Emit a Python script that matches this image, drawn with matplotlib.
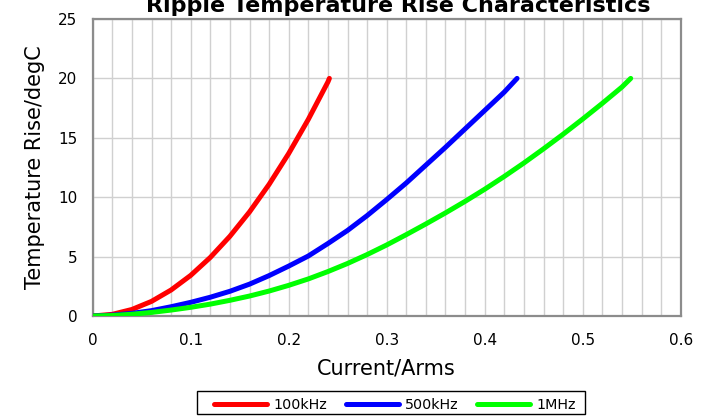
import matplotlib
matplotlib.use("Agg")
import matplotlib.pyplot as plt
from matplotlib.patches import Rectangle
import numpy as np

red_x = [0, 0.02, 0.04, 0.06, 0.08, 0.10, 0.12, 0.14, 0.16, 0.18, 0.20, 0.22, 0.24, 0.2415]
red_y = [0, 0.14, 0.55, 1.23, 2.19, 3.42, 4.93, 6.71, 8.76, 11.08, 13.68, 16.55, 19.7, 20]

blue_x = [0, 0.02, 0.04, 0.06, 0.08, 0.10, 0.12, 0.14, 0.16, 0.18, 0.20, 0.22, 0.24,
          0.26, 0.28, 0.30, 0.32, 0.34, 0.36, 0.38, 0.40, 0.42, 0.433]
blue_y = [0, 0.07, 0.22, 0.45, 0.78, 1.15, 1.58, 2.08, 2.68, 3.4, 4.2, 5.05, 6.1,
          7.2, 8.45, 9.8, 11.2, 12.7, 14.2, 15.75, 17.3, 18.85, 20]

green_x = [0, 0.02, 0.04, 0.06, 0.08, 0.10, 0.12, 0.14, 0.16, 0.18, 0.20, 0.22, 0.24,
           0.26, 0.28, 0.30, 0.32, 0.34, 0.36, 0.38, 0.40, 0.42, 0.44, 0.46, 0.48,
           0.50, 0.52, 0.54, 0.549]
green_y = [0, 0.04, 0.15, 0.3, 0.5, 0.73, 1.0, 1.32, 1.68, 2.1, 2.58, 3.12, 3.74,
           4.42, 5.17, 5.98, 6.85, 7.75, 8.68, 9.65, 10.67, 11.75, 12.88, 14.07, 15.3,
           16.58, 17.9, 19.27, 20]

series = [("100kHz", red_x, red_y, "#ff0000"),
          ("500kHz", blue_x, blue_y, "#0000ff"),
          ("1MHz", green_x, green_y, "#00ff00")]

plt.rcParams['font.family'] = ['DejaVu Sans']

W, H = 715, 416
fig = plt.figure(figsize=(W / 100, H / 100), dpi=100)
ax = fig.add_axes([92.7 / W, (H - 316) / H, (680.7 - 92.7) / W, (316 - 19) / H])

for label, x, y, c in series:
    ax.plot(x, y, color=c, lw=3.6, label=label, solid_capstyle='round',
            solid_joinstyle='round', zorder=3)

ax.set_xlim(0, 0.6)
ax.set_ylim(0, 25)
ax.set_xticks(np.arange(0, 0.61, 0.1))
ax.set_xticklabels(["0", "0.1", "0.2", "0.3", "0.4", "0.5", "0.6"])
ax.set_xticks(np.arange(0, 0.601, 0.02), minor=True)
ax.set_yticks(np.arange(0, 26, 5))
ax.tick_params(which='both', length=0, labelsize=11)
ax.tick_params(axis='x', pad=12)
ax.tick_params(axis='y', pad=11)
ax.grid(True, which='both', axis='x', color='#d0d0d0', lw=1)
ax.grid(True, which='major', axis='y', color='#d0d0d0', lw=1)
ax.set_axisbelow(True)
for s in ax.spines.values():
    s.set_color('#8c8c8c')
    s.set_linewidth(1.6)

ax.set_xlabel("Current/Arms", fontsize=15)
ax.set_ylabel("Temperature Rise/degC", fontsize=15)
ax.xaxis.set_label_coords(0.5, (316 - 358) / 297)
ax.yaxis.set_label_coords((45 - 92.7) / 588, 0.5)

fig.text(398 / W, (H - 11.5) / H, "Ripple Temperature Rise Characteristics",
         fontsize=16, fontweight='bold', ha='center', va='baseline')

leg = fig.legend(loc='center', bbox_to_anchor=(395 / W, (H - 405) / H), ncol=3,
                 frameon=False, fontsize=10.3, handlelength=3.7,
                 handletextpad=0.45, columnspacing=1.3, borderpad=0.3,
                 borderaxespad=0)
fig.patches.append(Rectangle((197 / W, (H - 414) / H), (585 - 197) / W, 23 / H,
                             transform=fig.transFigure, fill=False,
                             edgecolor='black', linewidth=1))

fig.savefig("out.png", dpi=100)
